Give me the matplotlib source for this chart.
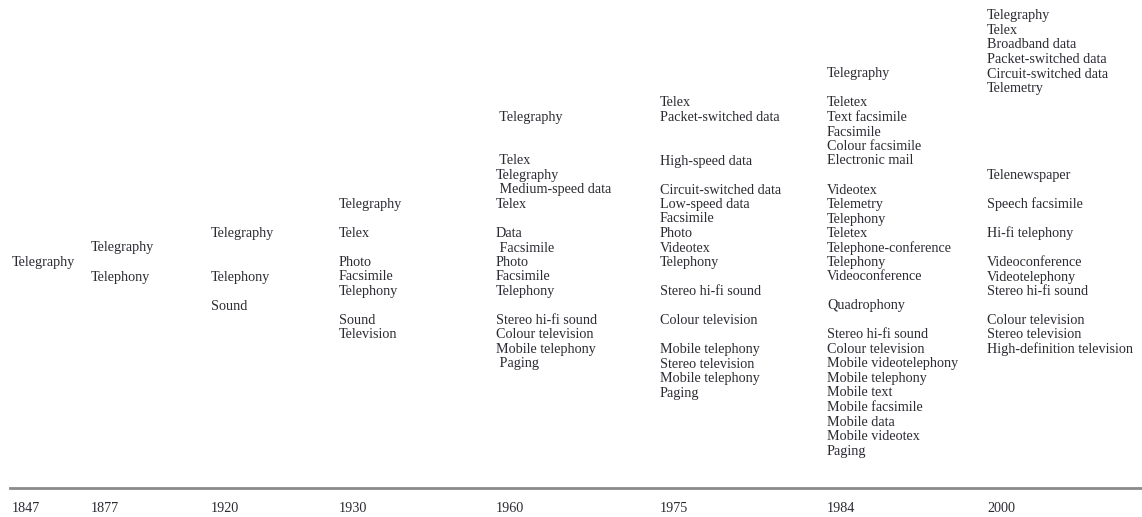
import matplotlib
matplotlib.use('Agg')
import matplotlib.pyplot as plt

# Services available in each period ('' = blank line in the column)
years = ['1847', '1877', '1920', '1930', '1960', '1975', '1984', '2000']

services_1847 = ['Telegraphy']
services_1877 = ['Telegraphy', '', 'Telephony']
services_1920 = ['Telegraphy', '', '', 'Telephony', '', 'Sound']
services_1930 = ['Telegraphy', '', 'Telex', '', 'Photo', 'Facsimile', 'Telephony', '',
                 'Sound', 'Television']
services_1960 = [' Telegraphy', '', '', ' Telex', 'Telegraphy', ' Medium-speed data', 'Telex', '',
                 'Data', ' Facsimile', 'Photo', 'Facsimile', 'Telephony', '',
                 'Stereo hi-fi sound', 'Colour television', 'Mobile telephony', ' Paging']
services_1975 = ['Telex', 'Packet-switched data', '', '', 'High-speed data', '',
                 'Circuit-switched data', 'Low-speed data', 'Facsimile', 'Photo', 'Videotex',
                 'Telephony', '', 'Stereo hi-fi sound', '', 'Colour television', '',
                 'Mobile telephony', 'Stereo television', 'Mobile telephony', 'Paging']
services_1984 = ['Telegraphy', '', 'Teletex', 'Text facsimile', 'Facsimile', 'Colour facsimile',
                 'Electronic mail', '', 'Videotex', 'Telemetry', 'Telephony', 'Teletex',
                 'Telephone-conference', 'Telephony', 'Videoconference', '', 'Quadrophony', '',
                 'Stereo hi-fi sound', 'Colour television', 'Mobile videotelephony',
                 'Mobile telephony', 'Mobile text', 'Mobile facsimile', 'Mobile data',
                 'Mobile videotex', 'Paging']
services_2000 = ['Telegraphy', 'Telex', 'Broadband data', 'Packet-switched data',
                 'Circuit-switched data', 'Telemetry', '', '', '', '', '', 'Telenewspaper', '',
                 'Speech facsimile', '', 'Hi-fi telephony', '', 'Videoconference',
                 'Videotelephony', 'Stereo hi-fi sound', '', 'Colour television',
                 'Stereo television', 'High-definition television']

columns = [services_1847, services_1877, services_1920, services_1930,
           services_1960, services_1975, services_1984, services_2000]

# layout: left edge of each column and the text row it starts on
col_x = [12, 91, 211, 339, 496, 660, 827, 987]
start_row = [17, 16, 15, 13, 7, 6, 4, 0]

W, H = 1142, 517
row_h = 14.5      # pixels per text line
top_px = 16       # pixel y of row 0
line_row = (488 - top_px) / row_h
year_row = (509 - top_px) / row_h

plt.rcParams['font.family'] = ['Liberation Serif', 'DejaVu Serif']
text_color = '#2b2b33'
fs = 10.2

fig = plt.figure(figsize=(W / 100, H / 100), dpi=100)
ax = fig.add_axes([0, 0, 1, 1])
ax.set_xlim(0, W)
ax.set_ylim((H - top_px) / row_h, -top_px / row_h)
ax.axis('off')

for x, r0, labels in zip(col_x, start_row, columns):
    for i, label in enumerate(labels):
        if label:
            ax.text(x, r0 + i, label, ha='left', va='center', fontsize=fs, color=text_color)

ax.axhline(line_row, xmin=10 / W, xmax=1, color='#8a8a8a', lw=2)

for x, year in zip(col_x, years):
    ax.text(x, year_row, year, ha='left', va='center', fontsize=fs, color=text_color)

fig.savefig('out.png', dpi=100, facecolor='white')
